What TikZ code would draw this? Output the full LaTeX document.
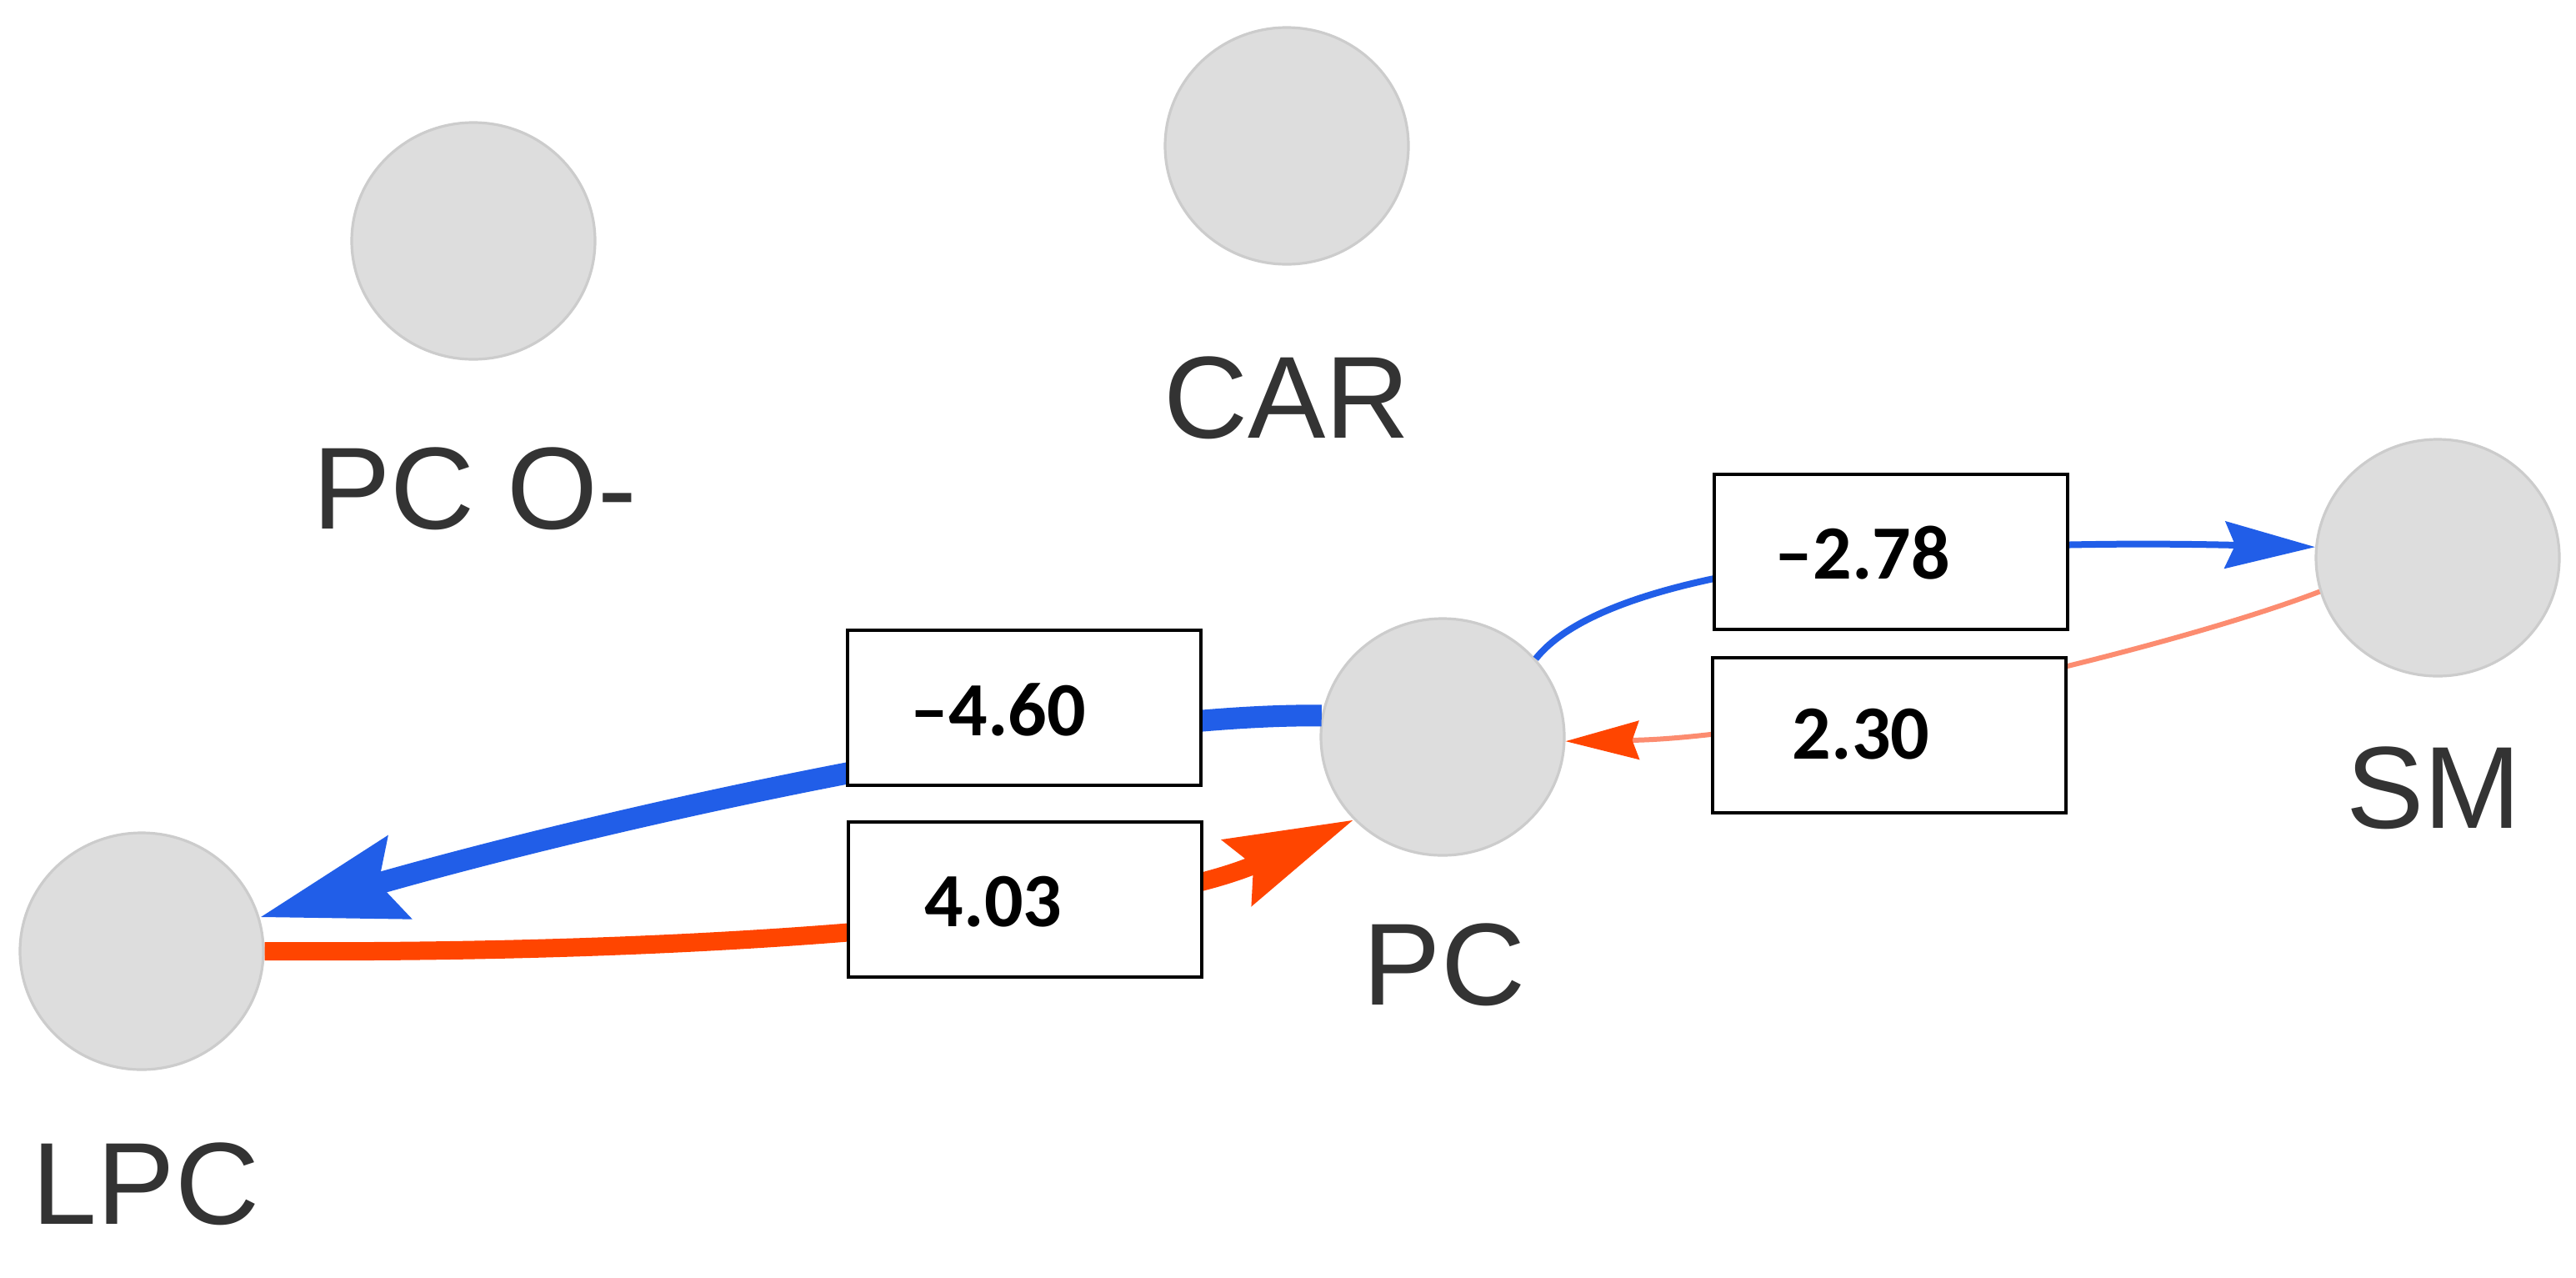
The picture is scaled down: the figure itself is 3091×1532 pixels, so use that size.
\documentclass[tikz,border=0pt]{standalone}
\usepackage{fontspec}
\setmainfont{Liberation Sans}
\newfontfamily\numfont{Carlito}
\usetikzlibrary{arrows.meta,shapes.geometric}
\definecolor{eblue}{RGB}{33,94,232}
\definecolor{eorange}{RGB}{255,69,0}
\definecolor{esalmon}{RGB}{252,140,112}
\definecolor{nodefill}{RGB}{221,221,221}
\definecolor{nodeline}{RGB}{204,204,204}
\definecolor{labelgray}{RGB}{51,51,51}
\begin{document}
\begin{tikzpicture}[x=0.25pt,y=-0.25pt,
  vertex/.style={ellipse, fill=nodefill, draw=nodeline, line width=0.8pt, minimum width=73pt, minimum height=71pt, inner sep=0pt},
  vlabel/.style={anchor=base, inner sep=0pt, text=labelgray, font=\fontsize{35pt}{42pt}\selectfont},
  valbox/.style={draw=black, line width=0.9pt, fill=white, anchor=north west, minimum width=106pt, minimum height=46.5pt, inner sep=0pt},
  valtext/.style={anchor=base west, inner sep=0pt, font=\numfont\bfseries\fontsize{23pt}{28pt}\selectfont},
  negthick/.style={draw=eblue, line width=6.5pt, -{Stealth[length=43pt,width=25pt,inset=6pt]}},
  posthick/.style={draw=eorange, line width=5.5pt, -{Stealth[length=38pt,width=21pt,inset=5pt]}},
  negthin/.style={draw=eblue, line width=2pt, -{Stealth[length=27pt,width=14pt,inset=3pt]}},
  posthin/.style={draw=esalmon, line width=1.5pt, -{Stealth[length=22pt,width=11.5pt,inset=2pt,color=eorange]}}
]
\useasboundingbox (0,0) rectangle (3091,1532);
\fill[white] (0,0) rectangle (3091,1532);

% nodes
\node[vertex] (pco) at (568,289) {};
\node[vertex] (car) at (1544,175) {};
\node[vertex] (pc)  at (1731,884) {};
\node[vertex] (sm)  at (2925,669) {};
\node[vertex] (lpc) at (170,1141) {};

% node labels
\node[vlabel] (lpco) at (570,634) {PC O-};
\node[vlabel] (lcar) at (1544,525) {CAR};
\node[vlabel] (lpcl) at (1733,1205) {PC};
\node[vlabel] (lsm)  at (2920,993) {SM};
\node[vlabel] (llpc) at (175,1468) {LPC};

% edges
\draw[negthick] (pc.170) .. controls (1300,855) and (750,975) .. (lpc.16);
\draw[posthick] (lpc.0) .. controls (1000,1145) and (1400,1085) .. (pc.223);
\draw[negthin] (pc.40) .. controls (1930,680) and (2300,645) .. (sm.175);
\draw[posthin] (sm.196) .. controls (2600,780) and (2150,885) .. (pc.358);

% value boxes
\node[valbox] (b460) at (1015,754) {};
\node[valbox] (b403) at (1016,984) {};
\node[valbox] (b278) at (2055,567) {};
\node[valbox] (b230) at (2053,787) {};

\node[valtext] (t460) at (1092,882) {–4.60};
\node[valtext] (t403) at (1109,1111) {4.03};
\node[valtext] (t278) at (2129,694) {–2.78};
\node[valtext] (t230) at (2150,910) {2.30};
\end{tikzpicture}
\end{document}
